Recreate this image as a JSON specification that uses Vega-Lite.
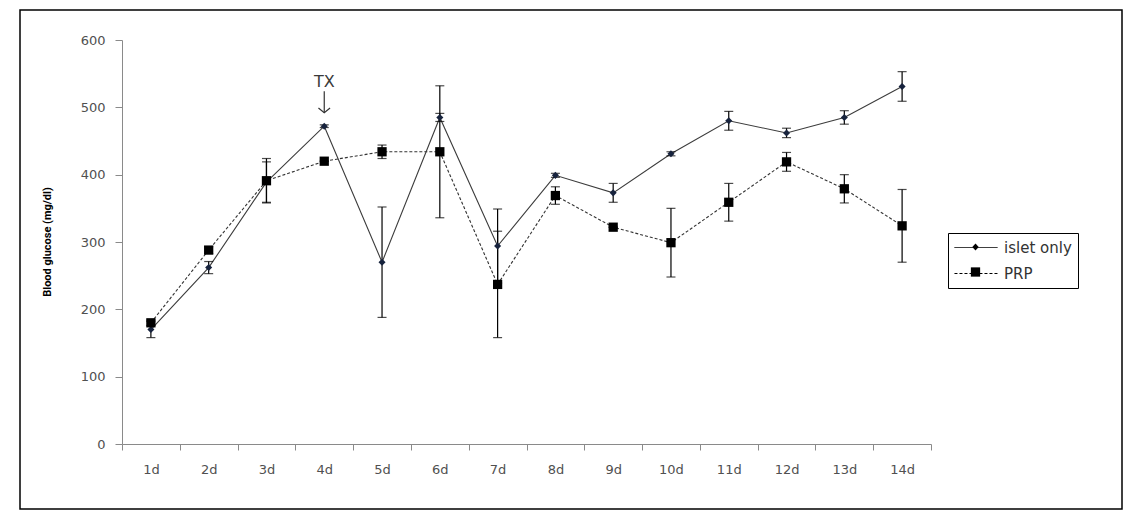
{
  "$schema": "https://vega.github.io/schema/vega-lite/v6.json",
  "width": 1102,
  "height": 499,
  "autosize": {"type": "none"},
  "padding": {"left": 20, "top": 10, "right": 16, "bottom": 8},
  "background": "#ffffff",
  "config": {
    "view": {"stroke": "#000000", "strokeWidth": 1.5},
    "axis": {"grid": false},
    "font": "DejaVu Sans"
  },
  "datasets": {
    "glucose": [
      {"day": "1d", "series": "islet only", "mean": 170, "sd": 12},
      {"day": "2d", "series": "islet only", "mean": 262, "sd": 9},
      {"day": "3d", "series": "islet only", "mean": 389, "sd": 30},
      {"day": "4d", "series": "islet only", "mean": 472, "sd": 2},
      {"day": "5d", "series": "islet only", "mean": 270, "sd": 82},
      {"day": "6d", "series": "islet only", "mean": 485, "sd": 6},
      {"day": "7d", "series": "islet only", "mean": 294, "sd": 55},
      {"day": "8d", "series": "islet only", "mean": 399, "sd": 3},
      {"day": "9d", "series": "islet only", "mean": 373, "sd": 14},
      {"day": "10d", "series": "islet only", "mean": 431, "sd": 3},
      {"day": "11d", "series": "islet only", "mean": 480, "sd": 14},
      {"day": "12d", "series": "islet only", "mean": 462, "sd": 7},
      {"day": "13d", "series": "islet only", "mean": 485, "sd": 10},
      {"day": "14d", "series": "islet only", "mean": 531, "sd": 22},
      {"day": "1d", "series": "PRP", "mean": 180, "sd": 4},
      {"day": "2d", "series": "PRP", "mean": 288, "sd": 5},
      {"day": "3d", "series": "PRP", "mean": 391, "sd": 33},
      {"day": "4d", "series": "PRP", "mean": 420, "sd": 0},
      {"day": "5d", "series": "PRP", "mean": 434, "sd": 10},
      {"day": "6d", "series": "PRP", "mean": 434, "sd": 98},
      {"day": "7d", "series": "PRP", "mean": 237, "sd": 79},
      {"day": "8d", "series": "PRP", "mean": 369, "sd": 13},
      {"day": "9d", "series": "PRP", "mean": 322, "sd": 0},
      {"day": "10d", "series": "PRP", "mean": 299, "sd": 51},
      {"day": "11d", "series": "PRP", "mean": 359, "sd": 28},
      {"day": "12d", "series": "PRP", "mean": 419, "sd": 14},
      {"day": "13d", "series": "PRP", "mean": 379, "sd": 21},
      {"day": "14d", "series": "PRP", "mean": 324, "sd": 54}
    ]
  },
  "data": {"name": "glucose"},
  "encoding": {
    "x": {
      "field": "day", "type": "nominal", "title": null,
      "scale": {"type": "band", "domain": ["1d", "2d", "3d", "4d", "5d", "6d", "7d", "8d", "9d", "10d", "11d", "12d", "13d", "14d"], "range": [102, 911], "paddingInner": 0, "paddingOuter": 0},
      "axis": {
        "offset": -65,
        "domain": true,
        "domainColor": "#8a8a8a",
        "grid": false,
        "tickBand": "extent",
        "tickSize": 6,
        "tickColor": "#8a8a8a",
        "labelAngle": 0,
        "labelPadding": 13,
        "labelFontSize": 13,
        "labelColor": "#505050",
        "labelFont": "DejaVu Sans"
      }
    },
    "y": {
      "field": "mean", "type": "quantitative", "title": "Blood glucose (mg/dl)",
      "scale": {"domain": [0, 600], "range": [434, 30], "nice": false, "zero": false},
      "axis": {
        "values": [0, 100, 200, 300, 400, 500, 600],
        "offset": -102,
        "domain": true,
        "domainColor": "#8a8a8a",
        "grid": false,
        "tickSize": 7,
        "tickColor": "#8a8a8a",
        "labelPadding": 10,
        "labelFontSize": 13,
        "labelColor": "#505050",
        "labelFont": "DejaVu Sans",
        "titleFont": "Roboto",
        "titleFontWeight": "bold",
        "titleFontSize": 11,
        "titleColor": "#000000",
        "titleAngle": 270,
        "titleAlign": "center",
        "titleBaseline": "middle",
        "titleX": -75,
        "titleY": 231.5
      }
    }
  },
  "layer": [
    {
      "transform": [{"filter": "datum.series === 'islet only'"}],
      "mark": {"type": "line", "color": "#3c3c3c", "strokeWidth": 1.1}
    },
    {
      "transform": [{"filter": "datum.series === 'PRP'"}],
      "mark": {"type": "line", "color": "#333333", "strokeWidth": 1.1, "strokeDash": [3, 2]}
    },
    {
      "mark": {"type": "errorbar", "ticks": true, "size": 9, "thickness": 1.2, "color": "#000000"},
      "encoding": {"yError": {"field": "sd"}}
    },
    {
      "transform": [{"filter": "datum.series === 'islet only'"}],
      "mark": {"type": "point", "shape": "diamond", "filled": true, "color": "#17233d", "size": 50, "opacity": 1}
    },
    {
      "transform": [{"filter": "datum.series === 'PRP'"}],
      "mark": {"type": "point", "shape": "square", "filled": true, "color": "#000000", "size": 86, "opacity": 1}
    },
    {
      "transform": [{"filter": "false"}],
      "mark": {"type": "line", "color": "#000000", "strokeWidth": 1, "opacity": 1},
      "encoding": {
        "strokeDash": {
          "field": "series", "type": "nominal",
          "scale": {"domain": ["islet only", "PRP"], "range": [[1, 0], [3, 2]]},
          "legend": {
            "title": null, "orient": "none", "legendX": 928, "legendY": 223,
            "strokeColor": "#000000", "padding": 6,
            "symbolType": "M-2.69,0L2.69,0",
            "symbolSize": 256, "symbolOffset": 13.5, "labelOffset": 19.5,
            "symbolStrokeColor": "#000000", "symbolStrokeWidth": 1,
            "labelFont": "DejaVu Sans", "labelFontSize": 15, "labelColor": "#333333",
            "rowPadding": 9
          }
        }
      }
    },
    {
      "transform": [{"filter": "false"}],
      "mark": {"type": "point", "filled": true, "color": "#000000", "opacity": 1},
      "encoding": {
        "shape": {
          "field": "marker", "type": "nominal",
          "scale": {"domain": ["diamond", "square"], "range": ["M0,-0.45L0.4,0L0,0.45L-0.4,0Z", "M-0.58,-0.58L0.58,-0.58L0.58,0.58L-0.58,0.58Z"]},
          "legend": {
            "title": null, "orient": "none", "legendX": 928, "legendY": 223,
            "padding": 6,
            "symbolSize": 256, "symbolOffset": 13.5, "labelOffset": 19.5,
            "symbolFillColor": "#000000", "symbolStrokeWidth": 0,
            "labelFont": "DejaVu Sans", "labelFontSize": 15, "labelColor": "#333333",
            "labelExpr": "''",
            "rowPadding": 9
          }
        }
      }
    },
    {
      "transform": [{"filter": "datum.day === '4d' && datum.series === 'islet only'"}],
      "mark": {"type": "text", "text": "TX", "fontSize": 16, "color": "#3a3a3a", "font": "DejaVu Sans", "baseline": "middle", "align": "center"},
      "encoding": {
        "y": {"datum": 538, "type": "quantitative", "title": "Blood glucose (mg/dl)"}
      }
    },
    {
      "transform": [{"filter": "datum.day === '4d' && datum.series === 'islet only'"}],
      "mark": {"type": "rule", "color": "#333333", "strokeWidth": 1.2},
      "encoding": {
        "y": {"datum": 524, "type": "quantitative", "title": "Blood glucose (mg/dl)"},
        "y2": {"datum": 492}
      }
    },
    {
      "transform": [{"filter": "datum.day === '4d' && datum.series === 'islet only'"}],
      "mark": {"type": "point", "shape": "M-1,-0.8L0,0L1,-0.8", "filled": false, "color": "#333333", "strokeWidth": 1.2, "size": 135, "opacity": 1},
      "encoding": {
        "y": {"datum": 492, "type": "quantitative", "title": "Blood glucose (mg/dl)"}
      }
    }
  ]
}
